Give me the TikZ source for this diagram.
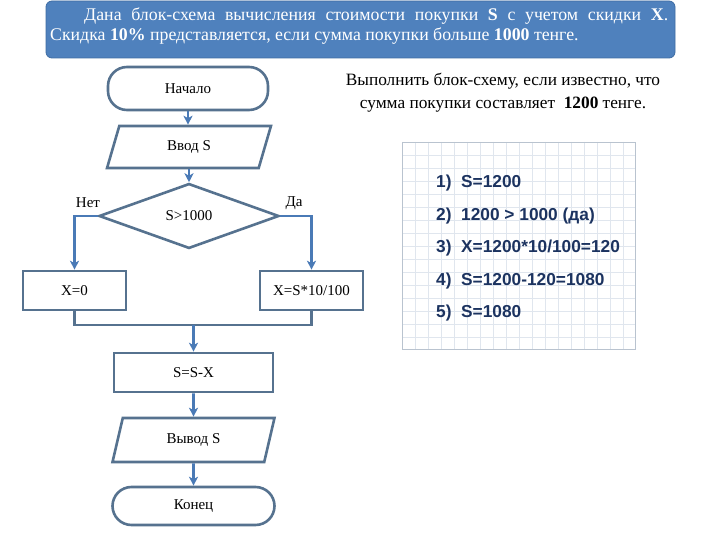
\documentclass[tikz,border=0pt]{standalone}
\usepackage{fontspec}
\setmainfont{Liberation Serif}
\newfontfamily\listfont{Liberation Sans}
\usetikzlibrary{shapes.geometric,arrows.meta}
\definecolor{banner}{HTML}{4F81BD}
\definecolor{bannerdark}{HTML}{3E6CA3}
\definecolor{shapeline}{HTML}{56728F}
\definecolor{arrowcol}{HTML}{4A7AB6}
\definecolor{gridcol}{HTML}{E0E6EE}
\definecolor{gridframe}{HTML}{B9C3CF}
\definecolor{listcol}{HTML}{1C3360}
\tikzset{
  fc/.style={draw=shapeline, line width=2.6pt, fill=white, font=\fontsize{15}{17}\selectfont, inner sep=2pt},
  term/.style={fc, rectangle, rounded corners=19pt},
  procbox/.style={fc, rectangle},
  iobox/.style={fc, trapezium, trapezium left angle=76, trapezium right angle=104, trapezium stretches=true},
  decis/.style={fc, diamond},
  arr/.style={draw=arrowcol, line width=2.6pt, -{Stealth[length=9pt,width=9pt,inset=2.5pt]}},
  ln/.style={draw=shapeline, line width=2.6pt},
  lbl/.style={font=\fontsize{15}{17}\selectfont},
  item/.style={anchor=west, font=\listfont\bfseries\fontsize{17.3}{19}\selectfont, text=listcol, inner sep=0pt}
}
\begin{document}
\begin{tikzpicture}[x=1pt,y=-1pt]
\useasboundingbox (0,0) rectangle (720,540);
\fill[white] (0,0) rectangle (720,540);

% header banner
\path[fill=banner, draw=bannerdark, line width=0.8pt, rounded corners=6pt] (46,1) rectangle (675,58);
\node[anchor=north west, text width=618pt, align=justify, text=white, inner sep=0pt,
      font=\fontsize{17.8}{20}\selectfont] (head) at (50,8)
 {\hspace*{34pt}Дана блок-схема вычисления стоимости покупки \textbf{S} с учетом скидки \textbf{X}.\linebreak
  Скидка \textbf{10\%} представляется, если сумма покупки больше \textbf{1000} тенге.};

% task text
\node[align=center, font=\fontsize{17.3}{23}\selectfont, inner sep=0pt] (task) at (503,93)
 {Выполнить блок-схему, если известно, что\\сумма покупки составляет~~\textbf{1200} тенге.};

% grid panel
\fill[white] (402,142) rectangle (635,349);
\begin{scope}
\clip (402,142) rectangle (635,349);
\foreach \gx in {0,...,18} \draw[gridcol, line width=0.8pt] (402+13*\gx,142) -- (402+13*\gx,349);
\foreach \gy in {0,...,16} \draw[gridcol, line width=0.8pt] (402,142+13*\gy) -- (635,142+13*\gy);
\end{scope}
\draw[gridframe, line width=0.8pt] (402,142) rectangle (635,349);
\node[item] (l1) at (436,183) {1)~~S=1200};
\node[item] (l2) at (436,216) {2)~~1200 > 1000 (да)};
\node[item] (l3) at (436,248) {3)~~X=1200*10/100=120};
\node[item] (l4) at (436,281) {4)~~S=1200-120=1080};
\node[item] (l5) at (436,313) {5)~~S=1080};

% flowchart
\node[term, minimum width=160pt, minimum height=43pt] (start) at (188,88.5) {Начало};
\node[iobox, minimum width=164pt, minimum height=42pt] (in) at (189,147) {Ввод S};
\node[decis, minimum width=180pt, minimum height=52pt] (dec) at (189,216) {S>1000};
\node[procbox, minimum width=103pt, minimum height=39pt] (x0) at (74.5,290.5) {X=0};
\node[procbox, minimum width=103pt, minimum height=39pt] (xs) at (311.5,290.5) {X=S*10/100};
\node[procbox, minimum width=159pt, minimum height=39pt] (ssx) at (193.5,372.5) {S=S-X};
\node[iobox, minimum width=163pt, minimum height=44pt] (out) at (193.5,440) {Вывод S};
\node[term, minimum width=162pt, minimum height=38pt] (stop) at (193.5,506) {Конец};

\node[lbl] (no) at (88,203) {Нет};
\node[lbl] (yes) at (294,203) {Да};

\coordinate (m) at (193.5,325);

\draw[arr] (start.south) -- (start.south |- in.north);
\draw[arr] (in.south -| dec.north) -- (dec.north);
\draw[arr] (dec.west) -| (x0.north);
\draw[arr] (dec.east) -| (xs.north);
\draw[ln] (x0.south) |- (m);
\draw[ln] (xs.south) |- (m);
\draw[arr] (m) -- (ssx.north);
\draw[arr] (ssx.south) -- (out.north);
\draw[arr] (out.south) -- (stop.north);
\end{tikzpicture}
\end{document}
